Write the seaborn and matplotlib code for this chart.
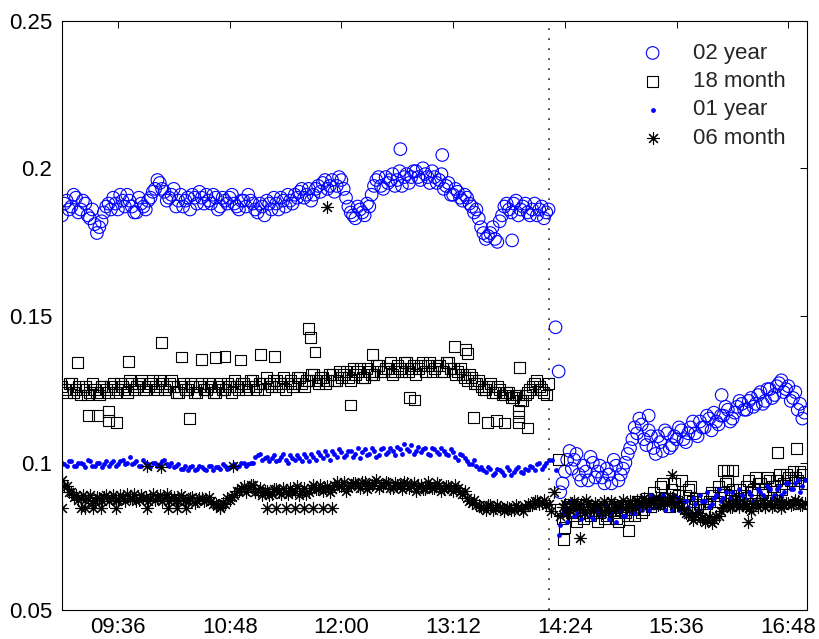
import seaborn as sns
import pandas as pd
import matplotlib.pyplot as plt
import matplotlib.dates as mdates

# Datos: dos mallas de 3 min desfasadas 1.5 min
am_times = pd.date_range("2000-01-01 09:00", periods=105, freq="3min")
pm_times = pd.date_range("2000-01-01 14:21", periods=53, freq="3min")
am_times2 = pd.date_range("2000-01-01 09:01:30", periods=105, freq="3min")
pm_times2 = pd.date_range("2000-01-01 14:22:30", periods=53, freq="3min")

two_year_am = [
    0.184, 0.189, 0.187, 0.190, 0.186, 0.188, 0.183, 0.181, 0.180, 0.185,
    0.188, 0.190, 0.186, 0.189, 0.191, 0.187, 0.185, 0.188, 0.186, 0.190,
    0.193, 0.195, 0.192, 0.190, 0.193, 0.189, 0.187, 0.190, 0.191, 0.188,
    0.190, 0.191, 0.188, 0.190, 0.187, 0.189, 0.190, 0.188, 0.186, 0.189,
    0.191, 0.188, 0.185, 0.187, 0.189, 0.186, 0.188, 0.190, 0.187, 0.189,
    0.191, 0.192, 0.190, 0.193, 0.191, 0.194, 0.195, 0.193, 0.196, 0.194,
    0.196, 0.190, 0.185, 0.183, 0.186, 0.184, 0.187, 0.194, 0.197, 0.193,
    0.195, 0.198, 0.196, 0.194, 0.198, 0.197, 0.199, 0.196, 0.198, 0.195,
    0.197, 0.196, 0.193, 0.195, 0.191, 0.192, 0.189, 0.190, 0.187, 0.186,
    0.180, 0.176, 0.178, 0.176, 0.182, 0.187, 0.186, 0.188, 0.184, 0.187,
    0.185, 0.186, 0.184, 0.187, 0.185]
two_year_am2 = [
    0.188, 0.186, 0.191, 0.185, 0.189, 0.184, 0.186, 0.178, 0.182, 0.187,
    0.186, 0.188, 0.191, 0.187, 0.189, 0.185, 0.190, 0.187, 0.189, 0.192,
    0.196, 0.193, 0.189, 0.191, 0.187, 0.191, 0.189, 0.186, 0.190, 0.192,
    0.188, 0.189, 0.191, 0.186, 0.190, 0.188, 0.191, 0.187, 0.189, 0.187,
    0.189, 0.186, 0.188, 0.184, 0.188, 0.190, 0.186, 0.189, 0.191, 0.188,
    0.190, 0.193, 0.191, 0.189, 0.193, 0.192, 0.196, 0.194, 0.192, 0.197,
    0.193, 0.187, 0.184, 0.187, 0.185, 0.188, 0.191, 0.196, 0.194, 0.197,
    0.196, 0.194, 0.199, 0.197, 0.195, 0.199, 0.197, 0.200, 0.197, 0.199,
    0.195, 0.198, 0.194, 0.191, 0.193, 0.190, 0.191, 0.188, 0.185, 0.183,
    0.178, 0.177, 0.180, 0.175, 0.184, 0.188, 0.185, 0.189, 0.186, 0.188,
    0.184, 0.188, 0.186, 0.183, 0.186]
two_year_pm = [
    0.090, 0.097, 0.104, 0.101, 0.096, 0.099, 0.094, 0.100, 0.097, 0.095,
    0.098, 0.093, 0.099, 0.096, 0.100, 0.105, 0.112, 0.115, 0.108, 0.111,
    0.105, 0.109, 0.104, 0.110, 0.106, 0.108, 0.111, 0.107, 0.112, 0.110,
    0.114, 0.112, 0.115, 0.117, 0.113, 0.116, 0.118, 0.115, 0.119, 0.120,
    0.118, 0.122, 0.120, 0.124, 0.121, 0.125, 0.123, 0.127, 0.124, 0.126,
    0.122, 0.118, 0.115]
two_year_pm2 = [
    0.093, 0.101, 0.098, 0.103, 0.094, 0.097, 0.102, 0.095, 0.099, 0.093,
    0.096, 0.101, 0.094, 0.098, 0.103, 0.108, 0.110, 0.113, 0.106, 0.109,
    0.103, 0.107, 0.111, 0.105, 0.109, 0.112, 0.108, 0.110, 0.114, 0.109,
    0.112, 0.116, 0.111, 0.114, 0.116, 0.119, 0.114, 0.117, 0.121, 0.118,
    0.121, 0.119, 0.123, 0.120, 0.125, 0.122, 0.126, 0.128, 0.125, 0.121,
    0.124, 0.120, 0.117]
two_year_extra_t = ["12:38", "13:05", "13:50", "14:18", "14:20", "15:18", "16:05"]
two_year_extra_v = [0.2065, 0.2045, 0.1755, 0.146, 0.131, 0.116, 0.123]

eighteen_month_am = [
    0.126, 0.124, 0.127, 0.125, 0.123, 0.126, 0.124, 0.125, 0.123, 0.126,
    0.124, 0.127, 0.125, 0.126, 0.124, 0.127, 0.126, 0.128, 0.125, 0.127,
    0.126, 0.128, 0.125, 0.127, 0.126, 0.124, 0.127, 0.125, 0.126, 0.124,
    0.127, 0.125, 0.126, 0.124, 0.127, 0.125, 0.126, 0.128, 0.125, 0.127,
    0.126, 0.128, 0.125, 0.127, 0.129, 0.126, 0.128, 0.127, 0.125, 0.128,
    0.127, 0.129, 0.126, 0.128, 0.130, 0.127, 0.129, 0.128, 0.130, 0.128,
    0.129, 0.131, 0.128, 0.130, 0.132, 0.129, 0.131, 0.130, 0.133, 0.131,
    0.132, 0.130, 0.133, 0.131, 0.134, 0.132, 0.130, 0.133, 0.131, 0.134,
    0.132, 0.133, 0.131, 0.134, 0.132, 0.131, 0.130, 0.128, 0.129, 0.127,
    0.126, 0.125, 0.127, 0.124, 0.125, 0.123, 0.124, 0.122, 0.123, 0.121,
    0.124, 0.126, 0.128, 0.125, 0.123]
eighteen_month_am2 = [
    0.125, 0.127, 0.124, 0.126, 0.125, 0.123, 0.127, 0.124, 0.126, 0.125,
    0.126, 0.124, 0.127, 0.125, 0.128, 0.125, 0.127, 0.125, 0.126, 0.128,
    0.125, 0.127, 0.126, 0.128, 0.124, 0.126, 0.125, 0.127, 0.124, 0.126,
    0.125, 0.127, 0.124, 0.126, 0.125, 0.127, 0.124, 0.126, 0.127, 0.125,
    0.128, 0.126, 0.127, 0.125, 0.127, 0.128, 0.126, 0.129, 0.127, 0.126,
    0.129, 0.127, 0.128, 0.130, 0.128, 0.129, 0.127, 0.130, 0.128, 0.131,
    0.130, 0.129, 0.132, 0.131, 0.129, 0.132, 0.130, 0.133, 0.131, 0.132,
    0.134, 0.131, 0.132, 0.134, 0.131, 0.133, 0.132, 0.134, 0.133, 0.131,
    0.133, 0.131, 0.134, 0.132, 0.130, 0.132, 0.129, 0.130, 0.127, 0.128,
    0.125, 0.126, 0.124, 0.126, 0.123, 0.124, 0.122, 0.123, 0.121, 0.123,
    0.125, 0.127, 0.126, 0.124, 0.127]
eighteen_month_pm = [
    0.084, 0.078, 0.086, 0.082, 0.084, 0.081, 0.085, 0.083, 0.080, 0.084,
    0.082, 0.086, 0.081, 0.084, 0.083, 0.085, 0.082, 0.087, 0.084, 0.086,
    0.090, 0.086, 0.093, 0.088, 0.091, 0.087, 0.094, 0.089, 0.092, 0.088,
    0.086, 0.084, 0.087, 0.089, 0.092, 0.090, 0.094, 0.091, 0.088, 0.086,
    0.092, 0.090, 0.095, 0.093, 0.091, 0.094, 0.092, 0.096, 0.093, 0.095,
    0.097, 0.094, 0.096]
eighteen_month_pm2 = [
    0.081, 0.085, 0.083, 0.080, 0.086, 0.083, 0.082, 0.085, 0.083, 0.081,
    0.085, 0.083, 0.080, 0.085, 0.082, 0.084, 0.087, 0.083, 0.088, 0.085,
    0.087, 0.092, 0.088, 0.085, 0.093, 0.089, 0.086, 0.091, 0.087, 0.085,
    0.088, 0.086, 0.090, 0.087, 0.090, 0.093, 0.089, 0.087, 0.091, 0.089,
    0.094, 0.091, 0.093, 0.090, 0.095, 0.092, 0.094, 0.091, 0.096, 0.094,
    0.095, 0.097, 0.093]
eighteen_month_extra_t = [
    "09:10", "09:17", "09:23", "09:30", "09:30", "09:35", "09:43", "10:04",
    "10:17", "10:22", "10:30", "10:39", "10:45", "10:55", "11:08", "11:17",
    "11:39", "11:40", "11:43", "12:06", "12:20", "12:44", "12:47", "13:13",
    "13:20", "13:21", "13:25", "13:34", "13:40", "13:45", "13:54", "13:54",
    "13:54", "13:55", "14:00", "14:20", "14:23", "15:05", "16:06", "16:09",
    "16:12", "16:41", "16:53"]
eighteen_month_extra_v = [
    0.134, 0.1162, 0.1162, 0.1175, 0.1145, 0.1138, 0.1345, 0.1407,
    0.1359, 0.1149, 0.1352, 0.1356, 0.136, 0.1349, 0.1369, 0.1362,
    0.1455, 0.1425, 0.1376, 0.1196, 0.1366, 0.1223, 0.1213, 0.1396,
    0.1383, 0.1372, 0.1155, 0.1138, 0.1145, 0.1135, 0.1179, 0.1135,
    0.1157, 0.1322, 0.1118, 0.101, 0.0738, 0.077, 0.0975, 0.0975,
    0.0975, 0.1036, 0.1047]

one_year_am = [
    0.100, 0.099, 0.1005, 0.099, 0.100, 0.0985, 0.1005, 0.099, 0.100, 0.0995,
    0.099, 0.1005, 0.0995, 0.101, 0.100, 0.0995, 0.1005, 0.099, 0.100, 0.0985,
    0.100, 0.0995, 0.101, 0.099, 0.0985, 0.0995, 0.098, 0.0975, 0.099, 0.098,
    0.0985, 0.0975, 0.099, 0.0985, 0.098, 0.099, 0.0985, 0.0995, 0.099, 0.100,
    0.0995, 0.100, 0.1025, 0.101, 0.102, 0.1015, 0.1005, 0.102, 0.1010, 0.1025,
    0.101, 0.1015, 0.103, 0.1005, 0.102, 0.1035, 0.1015, 0.1025, 0.1040, 0.102,
    0.1035, 0.1025, 0.104, 0.1030, 0.1015, 0.1045, 0.103, 0.1040, 0.1025, 0.105,
    0.1035, 0.104, 0.1055, 0.103, 0.1045, 0.106, 0.104, 0.1035, 0.105, 0.1025,
    0.1045, 0.103, 0.1040, 0.1025, 0.1035, 0.1010, 0.1025, 0.1005, 0.0995, 0.099,
    0.0985, 0.097, 0.098, 0.0965, 0.0975, 0.096, 0.0975, 0.097, 0.0985, 0.0965,
    0.0975, 0.0985, 0.0995, 0.0980, 0.100]
one_year_am2 = [
    0.0995, 0.1005, 0.0990, 0.1000, 0.0995, 0.1010, 0.0990, 0.1000, 0.0985, 0.1005,
    0.1000, 0.0990, 0.1005, 0.0995, 0.1020, 0.1000, 0.0990, 0.1010, 0.0995, 0.1000,
    0.0990, 0.1005, 0.0995, 0.1000, 0.0990, 0.0980, 0.0990, 0.0985, 0.0975, 0.0990,
    0.0980, 0.0990, 0.0975, 0.0985, 0.0995, 0.0980, 0.0990, 0.0985, 0.1000, 0.0990,
    0.1000, 0.1020, 0.1030, 0.1015, 0.1005, 0.1025, 0.1010, 0.1030, 0.1000, 0.1015,
    0.1025, 0.1005, 0.1020, 0.1030, 0.1010, 0.1025, 0.1040, 0.1010, 0.1030, 0.1045,
    0.1020, 0.1040, 0.1020, 0.1050, 0.1035, 0.1025, 0.1050, 0.1020, 0.1045, 0.1030,
    0.1050, 0.1025, 0.1045, 0.1065, 0.1040, 0.1030, 0.1055, 0.1045, 0.1030, 0.1050,
    0.1035, 0.1050, 0.1030, 0.1045, 0.1020, 0.1030, 0.1015, 0.0995, 0.1010, 0.0980,
    0.0975, 0.0985, 0.0960, 0.0980, 0.0970, 0.0985, 0.0960, 0.0980, 0.0970, 0.0980,
    0.0990, 0.0975, 0.1000, 0.0990, 0.1010]
one_year_pm = [
    0.079, 0.084, 0.087, 0.082, 0.085, 0.083, 0.086, 0.081, 0.084, 0.082,
    0.085, 0.083, 0.080, 0.084, 0.082, 0.086, 0.083, 0.085, 0.088, 0.084,
    0.087, 0.085, 0.089, 0.086, 0.084, 0.088, 0.085, 0.087, 0.083, 0.086,
    0.089, 0.087, 0.085, 0.088, 0.091, 0.088, 0.086, 0.090, 0.087, 0.089,
    0.086, 0.089, 0.087, 0.090, 0.088, 0.091, 0.089, 0.092, 0.090, 0.093,
    0.091, 0.094, 0.092]
one_year_pm2 = [
    0.083, 0.080, 0.085, 0.083, 0.081, 0.087, 0.082, 0.085, 0.083, 0.086,
    0.081, 0.084, 0.086, 0.082, 0.085, 0.083, 0.087, 0.084, 0.086, 0.089,
    0.085, 0.088, 0.084, 0.087, 0.089, 0.084, 0.087, 0.085, 0.088, 0.084,
    0.087, 0.090, 0.086, 0.089, 0.087, 0.090, 0.088, 0.086, 0.091, 0.088,
    0.090, 0.087, 0.091, 0.089, 0.092, 0.088, 0.091, 0.089, 0.093, 0.091,
    0.093, 0.090, 0.094]
one_year_extra_t = ["14:16", "14:18", "14:20"]
one_year_extra_v = [0.101, 0.0975, 0.0755]

six_month_am = [
    0.094, 0.092, 0.090, 0.089, 0.088, 0.0875, 0.089, 0.087, 0.088, 0.0885,
    0.087, 0.089, 0.0875, 0.088, 0.0895, 0.088, 0.087, 0.089, 0.0885, 0.088,
    0.0875, 0.089, 0.088, 0.087, 0.0885, 0.0875, 0.088, 0.087, 0.0885, 0.087,
    0.088, 0.0875, 0.087, 0.086, 0.085, 0.086, 0.0875, 0.089, 0.0905, 0.092,
    0.091, 0.0925, 0.0905, 0.089, 0.0905, 0.0895, 0.091, 0.0895, 0.090, 0.0915,
    0.0905, 0.089, 0.0915, 0.090, 0.0925, 0.091, 0.0905, 0.092, 0.091, 0.0935,
    0.092, 0.0905, 0.0925, 0.093, 0.0915, 0.0935, 0.092, 0.093, 0.0915, 0.0925,
    0.093, 0.0915, 0.0925, 0.091, 0.093, 0.092, 0.0905, 0.0925, 0.091, 0.092,
    0.0915, 0.0925, 0.091, 0.092, 0.0905, 0.0915, 0.0895, 0.088, 0.0865, 0.0855,
    0.085, 0.084, 0.0855, 0.0845, 0.085, 0.0835, 0.0845, 0.084, 0.085, 0.0835,
    0.086, 0.0855, 0.087, 0.0865, 0.0855]
six_month_am2 = [
    0.092, 0.090, 0.0885, 0.0875, 0.089, 0.088, 0.0865, 0.0885, 0.087, 0.089,
    0.088, 0.0875, 0.089, 0.087, 0.088, 0.0895, 0.0875, 0.088, 0.087, 0.0895,
    0.088, 0.087, 0.0895, 0.088, 0.0875, 0.089, 0.087, 0.088, 0.0865, 0.088,
    0.087, 0.0885, 0.086, 0.0855, 0.0865, 0.088, 0.0885, 0.0905, 0.0915, 0.090,
    0.0925, 0.090, 0.0915, 0.0905, 0.089, 0.091, 0.090, 0.0915, 0.0895, 0.0905,
    0.092, 0.0905, 0.0895, 0.0915, 0.091, 0.0925, 0.0915, 0.090, 0.0925, 0.092,
    0.0935, 0.0915, 0.093, 0.092, 0.0935, 0.091, 0.0925, 0.094, 0.0925, 0.0935,
    0.0915, 0.093, 0.092, 0.0935, 0.0915, 0.093, 0.092, 0.091, 0.0935, 0.0915,
    0.093, 0.0905, 0.092, 0.091, 0.0925, 0.090, 0.0905, 0.087, 0.0875, 0.0855,
    0.0845, 0.0855, 0.084, 0.0855, 0.0845, 0.085, 0.084, 0.0855, 0.0845, 0.085,
    0.0855, 0.087, 0.086, 0.0875, 0.086]
six_month_pm = [
    0.082, 0.086, 0.084, 0.087, 0.085, 0.083, 0.086, 0.084, 0.0855, 0.083,
    0.085, 0.087, 0.084, 0.086, 0.0845, 0.087, 0.085, 0.0865, 0.088, 0.0855,
    0.087, 0.0855, 0.0875, 0.086, 0.088, 0.0865, 0.085, 0.083, 0.0815, 0.0825,
    0.081, 0.080, 0.0815, 0.0805, 0.082, 0.0845, 0.086, 0.085, 0.0865, 0.0855,
    0.085, 0.0835, 0.0865, 0.0855, 0.085, 0.0865, 0.0855, 0.087, 0.0855, 0.0865,
    0.086, 0.087, 0.0855]
six_month_pm2 = [
    0.085, 0.083, 0.0865, 0.0845, 0.086, 0.0875, 0.084, 0.0865, 0.085, 0.087,
    0.0835, 0.086, 0.085, 0.0875, 0.086, 0.0845, 0.0875, 0.0855, 0.087, 0.0865,
    0.0885, 0.086, 0.087, 0.0885, 0.0855, 0.087, 0.084, 0.0825, 0.0805, 0.083,
    0.0815, 0.0805, 0.0795, 0.082, 0.0835, 0.0855, 0.085, 0.0875, 0.085, 0.0865,
    0.0845, 0.086, 0.085, 0.0875, 0.086, 0.085, 0.0875, 0.086, 0.0865, 0.0855,
    0.0875, 0.0855, 0.0865]
six_month_extra_t = [
    "09:00", "09:12", "09:15", "09:20", "09:25", "09:35", "09:55", "10:08",
    "10:14", "10:20", "10:42", "11:12", "11:18", "11:24", "11:30", "11:36",
    "11:42", "11:48", "11:54", "09:55", "10:04", "10:50", "11:51", "14:15",
    "14:17", "14:34", "15:33", "16:22", "16:43"]
six_month_extra_v = [
    0.0848, 0.0848, 0.0848, 0.0848, 0.0848, 0.0848, 0.0848, 0.0848,
    0.0848, 0.0848, 0.0848, 0.0848, 0.0848, 0.0848, 0.0848, 0.0848,
    0.0848, 0.0848, 0.0848, 0.0989, 0.0986, 0.0989, 0.1868, 0.0835,
    0.090, 0.0745, 0.0958, 0.080, 0.0846]

break_time = "14:14"
xtick_labels = ["09:36", "10:48", "12:00", "13:12", "14:24", "15:36", "16:48"]
ytick_values = [0.05, 0.1, 0.15, 0.2, 0.25]
ytick_labels = ["0.05", "0.1", "0.15", "0.2", "0.25"]


def hhmm(lst):
    return pd.to_datetime(["2000-01-01 " + s for s in lst])


def serie(am, am2, pm, pm2, et, ev):
    t = (list(am_times) + list(am_times2) + list(pm_times) + list(pm_times2)
         + list(hhmm(et)))
    v = list(am) + list(am2) + list(pm) + list(pm2) + list(ev)
    return pd.DataFrame({"t": t, "v": v})


sns.set_theme(style="white")
plt.rcParams["font.family"] = ["Liberation Sans", "DejaVu Sans"]

fig = plt.figure(figsize=(8.2, 6.39), dpi=100)
ax = fig.add_axes([62 / 820, 29 / 639, 745 / 820, 589 / 639])

d = serie(two_year_am, two_year_am2, two_year_pm, two_year_pm2,
          two_year_extra_t, two_year_extra_v)
sns.scatterplot(data=d, x="t", y="v", ax=ax, marker="o", s=82,
                facecolor="none", edgecolor="blue", linewidth=0.8, label="02 year")
d = serie(eighteen_month_am, eighteen_month_am2, eighteen_month_pm, eighteen_month_pm2,
          eighteen_month_extra_t, eighteen_month_extra_v)
sns.scatterplot(data=d, x="t", y="v", ax=ax, marker="s", s=62,
                facecolor="none", edgecolor="black", linewidth=0.8, label="18 month")
d = serie(one_year_am, one_year_am2, one_year_pm, one_year_pm2,
          one_year_extra_t, one_year_extra_v)
sns.scatterplot(data=d, x="t", y="v", ax=ax, marker="o", s=12,
                color="blue", edgecolor="blue", linewidth=0, label="01 year")
d = serie(six_month_am, six_month_am2, six_month_pm, six_month_pm2,
          six_month_extra_t, six_month_extra_v)
sns.scatterplot(data=d, x="t", y="v", ax=ax, marker=(8, 2, 0), s=72,
                color="black", linewidth=0.8, label="06 month")

ax.axvline(hhmm([break_time])[0], color="#222222", lw=1.2, ls=(0, (1.0, 5.0)))

ax.set_xlim(hhmm(["09:00"])[0], hhmm(["17:00"])[0])
ax.set_ylim(0.05, 0.25)
ax.set_xticks(hhmm(xtick_labels))
ax.xaxis.set_major_formatter(mdates.DateFormatter("%H:%M"))
ax.set_yticks(ytick_values)
ax.set_yticklabels(ytick_labels)
ax.set_xlabel("")
ax.set_ylabel("")

for sp in ax.spines.values():
    sp.set_color("black")
    sp.set_linewidth(0.8)
ax.tick_params(direction="in", top=True, right=True, length=5, width=0.7,
               labelsize=16, colors="black")
ax.tick_params(axis="x", pad=5)
ax.tick_params(axis="y", pad=7)

ax.legend(loc="upper right", bbox_to_anchor=(0.971, 0.963), frameon=False,
          fontsize=16, borderpad=0, borderaxespad=0, handlelength=2,
          handletextpad=0.8, labelspacing=0.33, scatterpoints=1)

fig.savefig("out.png", dpi=100)
